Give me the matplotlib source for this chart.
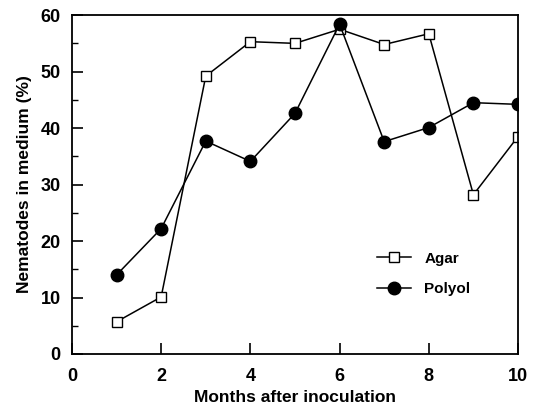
import matplotlib
matplotlib.use("Agg")
import matplotlib.pyplot as plt
from matplotlib.ticker import MultipleLocator

months = [1, 2, 3, 4, 5, 6, 7, 8, 9, 10]
agar = [5.7, 10.1, 49.2, 55.3, 55.0, 57.5, 54.8, 56.7, 28.2, 38.5]
polyol = [14.0, 22.2, 37.7, 34.1, 42.6, 58.4, 37.6, 40.1, 44.5, 44.2]

plt.rcParams['font.family'] = ['Liberation Sans', 'DejaVu Sans']
plt.rcParams['font.weight'] = 'bold'

fig = plt.figure(figsize=(5.41, 4.09), dpi=100)
ax = fig.add_axes([0.133, 0.1345, 0.8245, 0.8285])

ax.plot(months, agar, "k-", lw=1.1, marker="s", ms=7.5, mfc="white", mec="black", mew=1.0, label="Agar")
ax.plot(months, polyol, "k-", lw=1.1, marker="o", ms=9, mfc="black", mec="black", label="Polyol")

ax.set_xlim(0, 10)
ax.set_ylim(0, 60)
ax.xaxis.set_major_locator(MultipleLocator(2))
ax.yaxis.set_major_locator(MultipleLocator(10))
ax.yaxis.set_minor_locator(MultipleLocator(5))
ax.tick_params(axis="x", which="major", pad=10)
ax.tick_params(axis="both", which="major", direction="in", length=8, width=1.2, labelsize=13)
ax.tick_params(axis="y", which="major", pad=8)
ax.tick_params(axis="y", which="minor", direction="in", length=4, width=1.0)
for s in ax.spines.values():
    s.set_linewidth(1.3)

ax.set_xlabel("Months after inoculation", fontsize=12.5, fontweight="bold", labelpad=4)
ax.set_ylabel("Nematodes in medium (%)", fontsize=12.5, fontweight="bold", labelpad=6)

ax.legend(frameon=False, loc="center left", bbox_to_anchor=(0.684, 0.236),
          borderpad=0, borderaxespad=0, handlelength=2.2, handletextpad=0.9,
          labelspacing=1.1, prop={"size": 11, "weight": "bold"})

fig.savefig("out.png", dpi=100)
